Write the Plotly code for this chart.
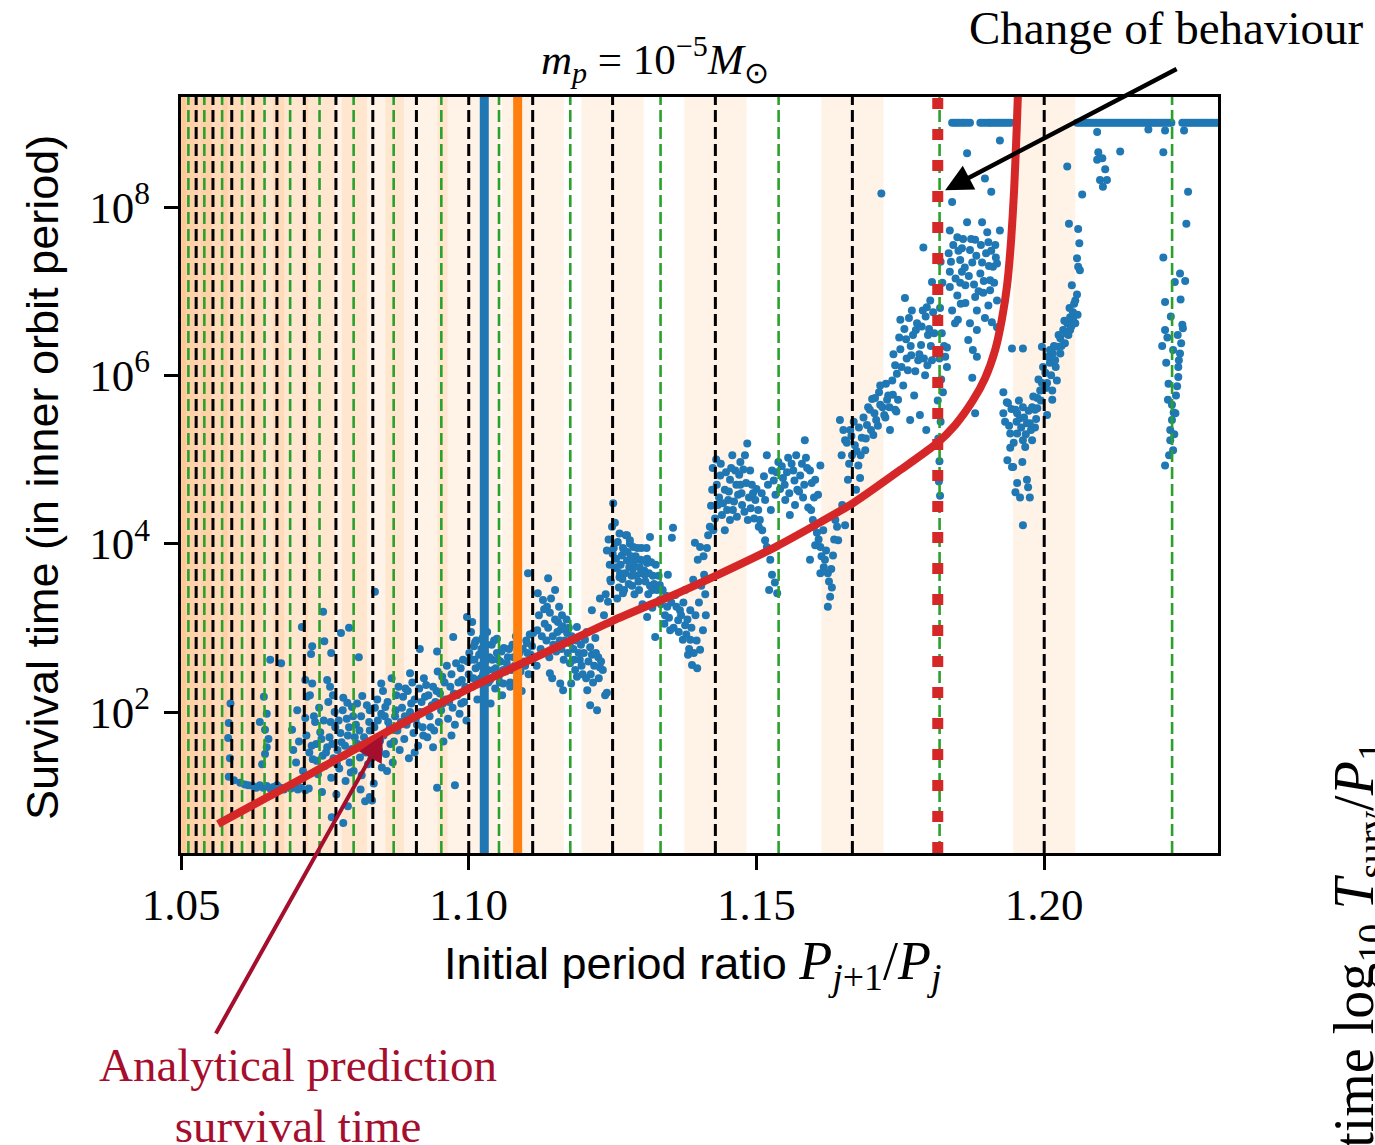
import plotly.graph_objects as go

# ---------------------------------------------------------------- styling
BLUE = "#1f77b4"
ORANGE = "#ff7f0e"
GREEN = "#2ca02c"
RED = "#d62728"
CRIMSON = "#a50e2d"
SERIF = "Liberation Serif"
SANS = "Liberation Sans"

# ---------------------------------------------------------------- axes
x_range = [1.05, 1.2302]
log_t_range = [0.325, 9.307]          # log10 of survival time
x_tick_vals = [1.05, 1.10, 1.15, 1.20]
x_tick_text = ["1.05", "1.10", "1.15", "1.20"]
y_tick_vals = [1e2, 1e4, 1e6, 1e8]
y_tick_text = ["10<sup>2</sup>", "10<sup>4</sup>", "10<sup>6</sup>", "10<sup>8</sup>"]

# ---------------------------------------------------------------- resonances
first_order = [6/5, 7/6, 8/7, 9/8, 10/9, 11/10, 12/11, 13/12, 14/13,
               15/14, 16/15, 17/16, 18/17, 19/18, 20/19]
second_order = [11/9, 13/11, 15/13, 17/15, 19/17, 21/19, 23/21, 25/23,
                27/25, 29/27, 31/29, 33/31, 35/33, 37/35, 39/37, 41/39]
band_centres = first_order + [21/20, 22/21, 23/22]
band_half_width = 0.0054

blue_line_x = 1.1027
orange_line_x = 1.1085
critical_x = 1.1815

# ---------------------------------------------------------------- analytical prediction
curve_ratio = [1.05643, 1.07120, 1.08285, 1.09154, 1.10022, 1.11239, 1.12490,
               1.13672, 1.14281, 1.15358, 1.16679, 1.17496, 1.18139, 1.18452,
               1.18764, 1.18973, 1.19147, 1.19268, 1.19355, 1.19425, 1.19477,
               1.19521, 1.19546]
curve_log_t = [0.670, 1.216, 1.656, 1.976, 2.285, 2.677, 3.081,
               3.425, 3.615, 3.971, 4.482, 4.874, 5.195, 5.409,
               5.705, 5.967, 6.299, 6.679, 7.071, 7.606, 8.200,
               8.912, 9.387]

# ---------------------------------------------------------------- N-body runs (ratio, log10 T)
sims_tight = [
    (1.0586, 2.10), (1.0583, 1.87), (1.0582, 1.69), (1.0585, 1.45), (1.0583, 1.23),
    (1.0611, 1.14), (1.0592, 1.19), (1.0603, 1.16), (1.0617, 1.13),
    (1.0625, 1.12), (1.0631, 1.10), (1.0637, 1.13), (1.0643, 1.10), (1.0649, 1.12),
    (1.0655, 1.09), (1.0661, 1.11), (1.0667, 1.13), (1.0673, 1.10), (1.0679, 1.08),
    (1.0685, 1.11), (1.0691, 1.09), (1.0697, 1.12), (1.0703, 1.08), (1.0709, 1.10),
    (1.0716, 1.07), (1.0722, 1.09),
    (1.0644, 2.18), (1.0649, 1.98), (1.0637, 1.88), (1.0646, 1.79), (1.0649, 1.58),
    (1.0646, 1.50), (1.0655, 2.62), (1.0674, 2.58), (1.0652, 1.68), (1.0641, 1.38),
    (1.0837, 3.43), (1.0747, 3.19), (1.0710, 3.01), (1.0792, 3.00), (1.0778, 2.94),
    (1.0749, 2.84), (1.0728, 2.78), (1.0726, 2.69), (1.0761, 2.70), (1.0809, 2.65),
    (1.0716, 2.38), (1.0728, 2.34), (1.0724, 2.20), (1.0719, 2.18), (1.0702, 2.02),
    (1.0716, 1.93), (1.0693, 1.79), (1.0754, 2.38), (1.0759, 2.30), (1.0764, 2.20),
    (1.0782, 2.17), (1.0789, 2.11), (1.0797, 2.06), (1.0815, 2.19), (1.0828, 2.02),
    (1.0837, 2.05), (1.0733, 1.88),
    (1.0762, 0.75), (1.0782, 0.68), (1.0828, 0.99), (1.0820, 0.94), (1.0832, 0.95),
    (1.0745, 1.05), (1.0770, 1.02), (1.0790, 0.88), (1.0812, 1.08),
    (1.0695, 1.55), (1.0700, 1.40), (1.0705, 1.65), (1.0712, 1.30), (1.0718, 1.72),
    (1.0723, 1.52), (1.0729, 1.44), (1.0735, 1.62), (1.0738, 1.26), (1.0742, 1.76),
    (1.0746, 1.48), (1.0750, 1.36), (1.0754, 1.58), (1.0758, 1.70), (1.0761, 1.22),
    (1.0765, 1.45), (1.0768, 1.82), (1.0772, 1.55), (1.0775, 1.33), (1.0779, 1.64),
    (1.0783, 1.48), (1.0786, 1.18), (1.0790, 1.72), (1.0793, 1.40), (1.0797, 1.56),
    (1.0800, 1.30), (1.0804, 1.85), (1.0807, 1.62), (1.0811, 1.46), (1.0814, 1.25),
    (1.0818, 1.70), (1.0821, 1.52), (1.0825, 1.38), (1.0828, 1.78), (1.0832, 1.60),
    (1.0835, 1.15), (1.0839, 1.48), (1.0842, 1.90), (1.0846, 1.66), (1.0849, 1.34),
    (1.0727, 1.60), (1.0731, 1.95), (1.0736, 1.42), (1.0740, 2.05), (1.0744, 1.68),
    (1.0748, 1.90), (1.0752, 1.52), (1.0756, 2.12), (1.0760, 1.88), (1.0763, 1.62),
    (1.0767, 2.00), (1.0771, 1.38), (1.0774, 1.90), (1.0777, 1.75), (1.0781, 2.02),
    (1.0785, 1.60), (1.0788, 1.92), (1.0792, 1.82), (1.0795, 1.28), (1.0799, 1.95),
    (1.0802, 1.70), (1.0806, 2.10), (1.0810, 1.78), (1.0813, 1.95), (1.0817, 1.58),
    (1.0823, 2.08), (1.0827, 1.88), (1.0831, 1.45), (1.0836, 1.82), (1.0841, 2.15),
    (1.0844, 1.55), (1.0848, 1.98),
]

sims_inner = [
    (1.0915, 2.75), (1.0945, 2.72), (1.0898, 2.46), (1.0848, 2.34), (1.0973, 2.89),
    (1.0997, 3.13), (1.1006, 3.07), (1.1011, 2.83), (1.1049, 2.87), (1.0976, 1.13),
    (1.0945, 1.10), (1.0855, 2.06),
    (1.0852, 1.72), (1.0856, 1.50), (1.0860, 1.88), (1.0864, 1.62), (1.0868, 1.40),
    (1.0872, 1.95), (1.0876, 1.78), (1.0880, 1.55), (1.0884, 2.05), (1.0888, 1.68),
    (1.0892, 1.85), (1.0896, 1.45), (1.0900, 2.10), (1.0904, 1.75), (1.0908, 1.92),
    (1.0912, 1.60), (1.0916, 2.00), (1.0920, 1.82), (1.0924, 2.18), (1.0928, 1.70),
    (1.0932, 1.95), (1.0936, 2.08), (1.0940, 1.78), (1.0944, 2.25), (1.0948, 1.88),
    (1.0952, 2.02), (1.0956, 1.65), (1.0960, 2.15), (1.0964, 1.92), (1.0968, 2.30),
    (1.0972, 2.05), (1.0976, 1.85), (1.0980, 2.20), (1.0984, 1.98), (1.0988, 2.38),
    (1.0992, 2.12), (1.0996, 1.90),
    (1.0858, 1.30), (1.0874, 2.20), (1.0890, 2.28), (1.0906, 1.52), (1.0922, 2.40),
    (1.0938, 1.58), (1.0954, 2.42), (1.0970, 1.72), (1.0986, 2.52), (1.0998, 2.60),
    (1.0851, 2.25), (1.0854, 1.95), (1.0859, 2.12), (1.0863, 1.82), (1.0866, 2.40),
    (1.0870, 1.65), (1.0873, 2.02), (1.0878, 2.30), (1.0882, 1.88), (1.0886, 2.18),
    (1.0889, 1.95), (1.0894, 2.25), (1.0898, 2.00), (1.0902, 2.35), (1.0906, 2.15),
    (1.0910, 1.85), (1.0914, 2.28), (1.0918, 2.12), (1.0921, 1.72), (1.0926, 2.32),
    (1.0930, 2.20), (1.0934, 1.82), (1.0938, 2.30), (1.0942, 2.12), (1.0946, 2.48),
    (1.0950, 2.22), (1.0955, 2.10), (1.0958, 2.35), (1.0962, 2.55), (1.0966, 2.12),
    (1.0970, 2.45), (1.0974, 2.22), (1.0978, 2.58), (1.0982, 2.35), (1.0987, 2.10),
    (1.0990, 2.62), (1.0994, 2.30),
    (1.1000, 2.45), (1.1003, 2.62), (1.1006, 2.30), (1.1009, 2.78), (1.1012, 2.52),
    (1.1015, 2.15), (1.1018, 2.68), (1.1021, 2.40), (1.1024, 2.88), (1.1026, 2.58),
    (1.1027, 2.25), (1.1028, 2.72), (1.1030, 2.48), (1.1032, 2.95), (1.1034, 2.35),
    (1.1036, 2.65), (1.1038, 2.10), (1.1040, 2.80), (1.1043, 2.50), (1.1046, 2.28),
    (1.1049, 2.70), (1.1052, 2.42), (1.1055, 2.60), (1.1058, 2.20), (1.1061, 2.76),
    (1.1001, 2.70), (1.1004, 2.95), (1.1008, 2.40), (1.1010, 2.62), (1.1013, 2.85),
    (1.1016, 2.35), (1.1019, 2.55), (1.1022, 2.75), (1.1025, 2.45), (1.1029, 2.60),
    (1.1031, 2.80), (1.1033, 2.50), (1.1037, 2.38), (1.1041, 2.62), (1.1044, 2.85),
    (1.1047, 2.52), (1.1051, 2.62), (1.1054, 2.35), (1.1057, 2.72), (1.1060, 2.50),
    (1.1064, 2.48), (1.1068, 2.65), (1.1072, 2.35), (1.1076, 2.80), (1.1080, 2.55),
    (1.1084, 2.40), (1.1088, 2.70), (1.1092, 2.25), (1.1096, 2.60), (1.1100, 2.85),
    (1.1104, 2.45), (1.1108, 2.68),
    (1.1066, 2.58), (1.1070, 2.75), (1.1074, 2.50), (1.1078, 2.65), (1.1082, 2.90),
    (1.1086, 2.58), (1.1090, 2.48), (1.1094, 2.75), (1.1098, 2.55), (1.1102, 2.70),
    (1.1106, 2.92), (1.1110, 2.78),
]

sims_middle = [
    (1.1103, 3.65), (1.1120, 3.41), (1.1129, 3.33), (1.1136, 3.25), (1.1141, 3.18),
    (1.1138, 3.59), (1.1150, 3.45), (1.1162, 3.15), (1.1155, 3.07), (1.1171, 2.94),
    (1.1176, 2.82), (1.1176, 2.58), (1.1178, 2.34), (1.1188, 3.01), (1.1202, 2.86),
    (1.1214, 2.68), (1.1228, 2.53), (1.1206, 2.26), (1.1237, 2.20), (1.1228, 3.35),
    (1.1242, 3.31), (1.1214, 3.21), (1.1060, 2.34), (1.1072, 2.30), (1.1101, 2.82),
    (1.1112, 2.94), (1.1119, 2.97), (1.1141, 2.46), (1.1159, 2.34), (1.1164, 2.26),
    (1.1188, 2.42), (1.1193, 2.62), (1.1211, 2.77), (1.1225, 2.65), (1.1233, 2.50),
    (1.1240, 2.23), (1.1223, 2.02), (1.1211, 2.08),
    (1.1125, 2.75), (1.1132, 3.05), (1.1140, 2.65), (1.1146, 2.90), (1.1152, 2.72),
    (1.1158, 2.85), (1.1165, 2.62), (1.1170, 3.10), (1.1182, 2.75), (1.1185, 2.50),
    (1.1195, 2.80), (1.1198, 2.45), (1.1205, 2.95), (1.1218, 2.55), (1.1220, 2.88),
    (1.1145, 2.40), (1.1118, 2.55), (1.1110, 2.62), (1.1135, 2.85), (1.1160, 2.98),
    (1.1122, 3.15), (1.1127, 2.90), (1.1131, 3.22), (1.1134, 2.70), (1.1138, 3.00),
    (1.1143, 3.35), (1.1147, 2.80), (1.1150, 3.10), (1.1154, 2.95), (1.1157, 3.25),
    (1.1161, 2.75), (1.1163, 3.02), (1.1167, 2.85), (1.1172, 2.70), (1.1174, 3.00),
    (1.1179, 2.90), (1.1183, 2.62), (1.1187, 2.85), (1.1191, 2.70), (1.1196, 2.55),
    (1.1200, 2.70), (1.1204, 2.40), (1.1208, 2.60), (1.1212, 2.45), (1.1216, 2.35),
    (1.1221, 2.70), (1.1226, 2.40), (1.1230, 2.60), (1.1235, 3.15), (1.1238, 3.40),
    (1.1251, 4.48), (1.1254, 4.25), (1.1262, 4.12), (1.1268, 3.95), (1.1275, 3.80),
    (1.1257, 3.72), (1.1250, 3.88), (1.1262, 3.60), (1.1270, 3.45), (1.1280, 4.00),
    (1.1285, 3.70), (1.1290, 3.85), (1.1295, 3.55), (1.1300, 3.95), (1.1305, 3.68),
    (1.1310, 3.82), (1.1315, 3.50), (1.1320, 3.62), (1.1258, 3.35), (1.1247, 3.55),
    (1.1243, 4.05), (1.1273, 4.10), (1.1288, 3.40), (1.1302, 3.28), (1.1312, 3.40),
    (1.1325, 3.75), (1.1283, 3.62), (1.1266, 3.86), (1.1297, 3.72), (1.1278, 3.52),
    (1.1275, 4.10), (1.1280, 4.04), (1.1240, 3.92), (1.1246, 3.57), (1.1254, 3.71),
    (1.1286, 3.96), (1.1298, 3.81), (1.1310, 3.77), (1.1263, 3.65), (1.1268, 3.41),
    (1.1315, 4.08),
    (1.1245, 3.75), (1.1249, 4.20), (1.1252, 3.95), (1.1256, 3.82), (1.1259, 4.02),
    (1.1261, 3.48), (1.1264, 3.75), (1.1267, 3.58), (1.1270, 3.92), (1.1272, 3.65),
    (1.1276, 3.90), (1.1279, 3.72), (1.1282, 3.85), (1.1284, 3.50), (1.1287, 3.78),
    (1.1291, 3.62), (1.1293, 3.95), (1.1296, 3.45), (1.1299, 3.65), (1.1303, 3.80),
    (1.1307, 3.55), (1.1309, 3.95), (1.1313, 3.65), (1.1317, 3.78), (1.1322, 3.52),
    (1.1355, 4.19), (1.1353, 4.07), (1.1393, 4.01), (1.1402, 3.96), (1.1419, 4.20),
    (1.1416, 4.10), (1.1306, 3.63), (1.1319, 3.45), (1.1332, 3.33), (1.1345, 3.25),
    (1.1324, 2.89), (1.1310, 3.13), (1.1319, 3.24), (1.1359, 3.39), (1.1367, 3.21),
    (1.1376, 3.03), (1.1385, 2.86), (1.1388, 2.56), (1.1397, 2.52), (1.1402, 2.74),
    (1.1407, 2.97), (1.1412, 3.15), (1.1364, 3.09), (1.1372, 2.86), (1.1381, 2.68),
    (1.1350, 2.97), (1.1341, 3.15), (1.1332, 3.51), (1.1346, 3.63), (1.1376, 3.45),
    (1.1390, 3.57), (1.1398, 3.81), (1.1409, 3.63), (1.1385, 3.21),
    (1.1327, 3.45), (1.1330, 3.62), (1.1334, 3.28), (1.1337, 3.45), (1.1340, 3.05),
    (1.1343, 3.38), (1.1348, 3.12), (1.1352, 3.30), (1.1356, 3.00), (1.1361, 3.25),
    (1.1365, 2.95), (1.1369, 3.15), (1.1373, 3.30), (1.1378, 2.92), (1.1380, 3.10),
    (1.1383, 2.75), (1.1387, 3.00), (1.1391, 2.70), (1.1394, 3.15), (1.1396, 2.85),
    (1.1400, 3.30), (1.1404, 3.50), (1.1408, 3.85), (1.1411, 3.40), (1.1414, 3.95),
]

sims_outer = [
    (1.1430, 5.00), (1.1437, 4.81), (1.1445, 4.64), (1.1454, 4.76), (1.1463, 4.87),
    (1.1472, 4.97), (1.1480, 5.05), (1.1484, 5.19), (1.1489, 4.87), (1.1492, 4.70),
    (1.1498, 4.52), (1.1503, 4.40), (1.1433, 4.46), (1.1440, 4.34), (1.1451, 4.52),
    (1.1459, 4.40), (1.1468, 4.58), (1.1475, 4.46), (1.1485, 4.28), (1.1425, 4.16),
    (1.1445, 4.16), (1.1454, 4.28), (1.1472, 4.70), (1.1423, 4.64), (1.1458, 5.05),
    (1.1421, 4.45), (1.1424, 4.90), (1.1428, 4.30), (1.1431, 4.70), (1.1435, 4.55),
    (1.1438, 4.95), (1.1442, 4.48), (1.1447, 4.85), (1.1449, 4.40), (1.1452, 4.62),
    (1.1456, 4.90), (1.1461, 4.50), (1.1465, 4.70), (1.1466, 4.32), (1.1470, 4.82),
    (1.1474, 4.60), (1.1477, 4.88), (1.1479, 4.38), (1.1482, 4.72), (1.1487, 4.55),
    (1.1490, 4.42), (1.1494, 4.60), (1.1496, 4.30), (1.1500, 4.65), (1.1504, 4.20),
    (1.1518, 5.05), (1.1527, 4.87), (1.1538, 4.97), (1.1546, 4.78), (1.1555, 5.02),
    (1.1564, 4.87), (1.1571, 4.64), (1.1576, 4.81), (1.1584, 5.23), (1.1586, 5.02),
    (1.1593, 4.87), (1.1567, 4.46), (1.1550, 4.52), (1.1533, 4.58), (1.1515, 4.52),
    (1.1506, 4.28), (1.1558, 4.34), (1.1602, 4.76), (1.1607, 4.58), (1.1611, 4.93),
    (1.1509, 4.60), (1.1513, 4.80), (1.1520, 4.70), (1.1525, 4.40), (1.1530, 4.75),
    (1.1535, 4.85), (1.1541, 4.65), (1.1544, 4.92), (1.1549, 4.70), (1.1553, 4.85),
    (1.1557, 4.60), (1.1561, 4.95), (1.1566, 4.75), (1.1569, 5.05), (1.1574, 4.62),
    (1.1579, 4.95), (1.1583, 4.70), (1.1588, 4.90), (1.1596, 4.72), (1.1600, 4.55),
    (1.1518, 3.96), (1.1524, 3.81), (1.1527, 3.63), (1.1532, 3.54), (1.1522, 3.45),
    (1.1536, 3.41), (1.1515, 4.04), (1.1510, 4.16),
    (1.1581, 4.55), (1.1590, 4.43), (1.1598, 4.28), (1.1605, 4.13), (1.1611, 3.96),
    (1.1619, 3.81), (1.1624, 3.65), (1.1631, 3.48), (1.1628, 3.37), (1.1624, 3.25),
    (1.1593, 3.81), (1.1611, 3.65), (1.1616, 4.16), (1.1637, 4.28), (1.1642, 4.04),
    (1.1649, 4.46), (1.1654, 4.22), (1.1633, 3.86), (1.1602, 3.98),
    (1.1595, 4.40), (1.1600, 4.20), (1.1608, 4.05), (1.1613, 3.85), (1.1617, 3.72),
    (1.1621, 3.92), (1.1626, 3.55), (1.1630, 3.70), (1.1635, 4.05), (1.1640, 4.20),
    (1.1645, 5.47), (1.1654, 5.23), (1.1663, 5.35), (1.1666, 5.05), (1.1671, 5.17),
    (1.1677, 4.93), (1.1683, 5.26), (1.1689, 5.11), (1.1692, 5.41), (1.1697, 5.59),
    (1.1703, 5.29), (1.1708, 5.47), (1.1715, 5.65), (1.1722, 5.53), (1.1727, 5.71),
    (1.1732, 5.35), (1.1737, 5.77), (1.1743, 5.57), (1.1659, 4.76), (1.1673, 4.64),
    (1.1680, 4.78),
    (1.1648, 5.05), (1.1651, 5.35), (1.1657, 5.20), (1.1661, 4.95), (1.1665, 5.28),
    (1.1669, 5.45), (1.1674, 5.10), (1.1678, 5.38), (1.1681, 5.05), (1.1686, 5.50),
    (1.1690, 5.25), (1.1694, 5.62), (1.1699, 5.35), (1.1701, 5.72), (1.1705, 5.55),
    (1.1711, 5.40), (1.1713, 5.80), (1.1719, 5.62), (1.1725, 5.90), (1.1731, 5.62),
]

sims_edge = [
    (1.1724, 5.50), (1.1729, 5.76), (1.1736, 5.94), (1.1741, 6.12), (1.1746, 5.71),
    (1.1750, 6.31), (1.1755, 5.88), (1.1760, 6.43), (1.1763, 6.06), (1.1769, 6.24),
    (1.1774, 5.76), (1.1777, 6.54), (1.1781, 6.18), (1.1786, 6.36), (1.1789, 6.77),
    (1.1793, 6.00), (1.1798, 6.48), (1.1802, 6.89), (1.1805, 6.18), (1.1750, 6.66),
    (1.1758, 6.92), (1.1770, 6.77), (1.1741, 5.59), (1.1715, 5.88), (1.1706, 5.73),
    (1.1767, 5.47), (1.1784, 5.53), (1.1795, 5.35),
    (1.1738, 6.25), (1.1744, 6.02), (1.1748, 6.45), (1.1752, 6.10), (1.1757, 6.55),
    (1.1761, 6.20), (1.1765, 6.68), (1.1768, 6.35), (1.1772, 6.48), (1.1776, 6.05),
    (1.1779, 6.62), (1.1783, 6.25), (1.1787, 6.58), (1.1791, 6.20), (1.1794, 6.70),
    (1.1797, 6.12), (1.1800, 6.55), (1.1803, 6.35), (1.1807, 6.75), (1.1809, 6.50),
    (1.1717, 8.16), (1.1790, 7.52), (1.1796, 6.81), (1.1805, 7.11),
    (1.1818, 4.98), (1.1817, 4.74), (1.1819, 4.57), (1.1816, 5.25), (1.1820, 5.45),
    (1.1815, 5.70), (1.1821, 5.95), (1.1818, 6.20), (1.1822, 6.50), (1.1819, 6.80),
    (1.1823, 7.10), (1.1820, 7.35), (1.1824, 5.80), (1.1826, 6.35),
    (1.1831, 6.33), (1.1828, 6.22), (1.1831, 6.10),
    (1.1836, 7.72), (1.1849, 7.64), (1.1866, 7.82), (1.1892, 7.82), (1.1901, 7.70),
    (1.1915, 7.55), (1.1903, 7.58), (1.1871, 7.49), (1.1854, 7.37), (1.1836, 7.23),
    (1.1857, 7.23), (1.1836, 7.05), (1.1854, 7.10), (1.1889, 7.21), (1.1906, 7.13),
    (1.1918, 7.33), (1.1911, 7.29), (1.1892, 7.34), (1.1875, 7.34), (1.1863, 6.86),
    (1.1883, 6.77), (1.1871, 6.62), (1.1883, 6.54), (1.1850, 6.66), (1.1845, 6.62),
    (1.1894, 6.98), (1.1906, 7.01), (1.1918, 6.89), (1.1880, 6.93), (1.1876, 6.30),
    (1.1883, 6.22), (1.1897, 6.68), (1.1863, 7.07), (1.1849, 6.95), (1.1840, 6.77),
    (1.1868, 6.42), (1.1903, 6.83), (1.1909, 6.63), (1.1923, 7.72), (1.1857, 7.51),
    (1.1880, 7.61),
    (1.1834, 7.45), (1.1838, 7.35), (1.1842, 7.55), (1.1846, 7.15), (1.1851, 7.48),
    (1.1855, 6.85), (1.1859, 7.62), (1.1862, 7.28), (1.1869, 7.18), (1.1873, 7.62),
    (1.1878, 7.08), (1.1882, 7.42), (1.1886, 7.00), (1.1890, 7.55), (1.1895, 7.12),
    (1.1899, 7.45), (1.1904, 7.30), (1.1908, 7.48), (1.1913, 7.10), (1.1916, 7.40),
    (1.1840, 8.06), (1.1897, 8.34), (1.1908, 8.18), (1.1866, 8.64), (1.1923, 8.79),
    (1.1880, 5.55), (1.1875, 5.97), (1.1918, 6.57),
]

sims_wide = [
    (1.1963, 4.22), (1.1936, 4.99), (1.1946, 4.91), (1.1962, 4.97), (1.1953, 4.72),
    (1.1950, 4.61), (1.1958, 4.55), (1.1970, 4.76), (1.1972, 4.67), (1.1975, 4.55),
    (1.1967, 5.15), (1.1979, 5.23), (1.1984, 5.38), (1.1941, 5.31), (1.1929, 5.55),
    (1.1953, 5.55), (1.1988, 5.61), (1.2005, 5.53), (1.2014, 5.71), (1.1963, 5.62),
    (1.1929, 5.80), (1.1937, 5.67), (1.1950, 5.59), (1.1958, 5.49), (1.1970, 5.43),
    (1.1979, 5.62), (1.1988, 5.73), (1.1996, 5.91), (1.2002, 6.03), (1.2010, 6.15),
    (1.2015, 6.26), (1.2022, 6.34), (1.2028, 6.44), (1.2033, 6.54), (1.2040, 6.62),
    (1.2045, 6.69), (1.2050, 6.75), (1.2010, 6.30), (1.2019, 6.18), (1.2028, 6.26),
    (1.2036, 6.38), (1.2042, 6.48), (1.2005, 5.91), (1.2014, 5.82), (1.2022, 5.94),
    (1.1993, 5.82), (1.1984, 5.59), (1.1975, 5.43), (1.1963, 5.23), (1.1953, 5.31),
    (1.1941, 5.14), (1.1944, 4.91), (1.1996, 6.34), (1.2045, 6.54), (1.2050, 6.66),
    (1.2054, 6.62),
    (1.1932, 5.45), (1.1935, 5.68), (1.1939, 5.40), (1.1943, 5.60), (1.1947, 5.20),
    (1.1952, 5.45), (1.1956, 5.70), (1.1960, 5.38), (1.1965, 5.50), (1.1968, 5.30),
    (1.1973, 5.58), (1.1977, 5.35), (1.1981, 5.75), (1.1986, 5.48), (1.1990, 5.95),
    (1.1994, 5.70), (1.1998, 6.10), (1.2003, 5.85), (1.2007, 6.22), (1.2012, 6.00),
    (1.2017, 6.35), (1.2020, 6.10), (1.2025, 6.48), (1.2030, 6.35), (1.2035, 6.65),
    (1.2038, 6.50), (1.2044, 6.80), (1.2047, 6.58), (1.2052, 6.85), (1.2058, 6.72),
    (1.2057, 7.39), (1.2059, 7.74), (1.2043, 7.80), (1.2061, 7.57), (1.2059, 7.29),
    (1.2062, 7.25), (1.2057, 6.96), (1.2040, 8.48), (1.2066, 8.15), (1.2048, 7.07),
    (1.2054, 6.89), (1.1944, 6.32), (1.1963, 6.32),
    (1.2092, 8.89), (1.2094, 8.65), (1.2092, 8.56), (1.2101, 8.58), (1.2106, 8.45),
    (1.2097, 8.32), (1.2109, 8.32), (1.2102, 8.24), (1.2132, 8.66), (1.2181, 8.92),
    (1.2210, 8.91), (1.2243, 8.91), (1.2207, 8.65), (1.2250, 8.18),
    (1.2247, 7.80), (1.2207, 7.40), (1.2236, 7.21), (1.2227, 7.11), (1.2245, 7.12),
    (1.2210, 6.87), (1.2240, 6.60), (1.2241, 6.56), (1.2210, 6.54), (1.2214, 6.45),
    (1.2238, 6.38), (1.2205, 6.35), (1.2236, 6.26), (1.2234, 6.18), (1.2233, 6.10),
    (1.2233, 5.98), (1.2231, 5.87), (1.2215, 5.71), (1.2222, 5.65), (1.2222, 5.47),
    (1.2219, 5.35), (1.2219, 5.23), (1.2224, 5.11), (1.2210, 4.93), (1.2225, 5.56),
    (1.2229, 5.76), (1.2217, 5.05),
    (1.2212, 6.15), (1.2216, 5.90), (1.2224, 6.30), (1.2228, 5.55), (1.2232, 6.48),
    (1.2226, 5.30), (1.2220, 6.70), (1.2237, 6.90),
]

# runs that reached the maximum integration time (10^9 inner orbits)
capped_log_t = 9.0
capped_ratio = [
    1.1840, 1.1844, 1.1848, 1.1852, 1.1857, 1.1861, 1.1866, 1.1871,
    1.1889, 1.1893, 1.1898, 1.1903, 1.1906,
    1.1910, 1.1914, 1.1918, 1.1922, 1.1926, 1.1930, 1.1934, 1.1938, 1.1942,
    1.2057, 1.2061, 1.2065, 1.2069, 1.2073, 1.2077, 1.2081, 1.2085, 1.2089,
    1.2093, 1.2097, 1.2101, 1.2105, 1.2109, 1.2113, 1.2117, 1.2121, 1.2125,
    1.2129, 1.2133, 1.2137, 1.2141, 1.2145, 1.2149, 1.2153, 1.2157, 1.2161,
    1.2165, 1.2169, 1.2173, 1.2177, 1.2181, 1.2185, 1.2189, 1.2193, 1.2197,
    1.2201, 1.2205, 1.2209, 1.2213, 1.2217, 1.2221,
    1.2240, 1.2244, 1.2248, 1.2252, 1.2256, 1.2260, 1.2264, 1.2268, 1.2272,
    1.2276, 1.2280, 1.2284, 1.2288, 1.2292, 1.2296, 1.2300,
]

# ---------------------------------------------------------------- figure
fig = go.Figure()

all_runs = sims_tight + sims_inner + sims_middle + sims_outer + sims_edge + sims_wide
run_x = [p[0] for p in all_runs] + capped_ratio
run_y = [10 ** p[1] for p in all_runs] + [10 ** capped_log_t] * len(capped_ratio)
fig.add_trace(go.Scatter(
    x=run_x, y=run_y, mode="markers",
    marker=dict(color=BLUE, size=8, line=dict(width=0)),
    hoverinfo="skip", showlegend=False,
))

y_lo, y_hi = 10 ** log_t_range[0], 10 ** log_t_range[1]


def vline(xv, color, width, dash):
    fig.add_trace(go.Scatter(
        x=[xv, xv], y=[y_lo, y_hi], mode="lines",
        line=dict(color=color, width=width, dash=dash),
        hoverinfo="skip", showlegend=False,
    ))


for r in first_order:
    vline(r, "black", 3, "12px,5px")
for r in second_order:
    vline(r, GREEN, 2.6, "12px,5px")
vline(blue_line_x, BLUE, 9, "solid")
vline(orange_line_x, ORANGE, 9, "solid")

fig.add_trace(go.Scatter(
    x=curve_ratio, y=[10 ** v for v in curve_log_t], mode="lines",
    line=dict(color=RED, width=8, shape="spline", smoothing=0.6),
    hoverinfo="skip", showlegend=False,
))
vline(critical_x, RED, 11, "11px,20px")

# shaded resonance widths
for c in band_centres:
    x0 = max(c - band_half_width, x_range[0])
    x1 = min(c + band_half_width, x_range[1])
    if x1 <= x0:
        continue
    fig.add_shape(type="rect", xref="x", yref="paper", x0=x0, x1=x1, y0=0, y1=1,
                  fillcolor="rgba(255,127,14,0.1)", line=dict(width=0), layer="below")

axis_common = dict(
    showline=True, linewidth=3, linecolor="black", mirror=True,
    ticks="outside", ticklen=14, tickwidth=3, tickcolor="black",
    showgrid=False, zeroline=False,
    tickfont=dict(family=SERIF, size=45, color="black"),
)
fig.update_xaxes(range=x_range, tickvals=x_tick_vals, ticktext=x_tick_text,
                 ticklabelstandoff=-4, **axis_common)
fig.update_yaxes(type="log", range=log_t_range, tickvals=y_tick_vals,
                 ticktext=y_tick_text, ticklabelstandoff=5, **axis_common)

annotations = [
    # panel title
    dict(xref="paper", yref="paper", x=0.457, y=1.049, xanchor="center", yanchor="middle",
         text="<i>m</i><sub><i>p</i></sub> = 10<sup>−5</sup><i>M</i><sub>⊙</sub>",
         showarrow=False, font=dict(family=SERIF, size=43, color="black")),
    # axis titles
    dict(xref="paper", yref="paper", x=0.493, y=-0.148, xanchor="center", yanchor="middle",
         text=("Initial period ratio <span style=\"font-family:Liberation Serif;font-size:54px\">"
               "<i>P</i><sub><i>j</i>+1</sub>/<i>P</i><sub><i>j</i></sub></span>"),
         showarrow=False, font=dict(family=SANS, size=45, color="black")),
    dict(xref="paper", yref="paper", x=-0.134, y=0.496, xanchor="center", yanchor="middle",
         text="Survival time (in inner orbit period)", textangle=-90,
         showarrow=False, font=dict(family=SANS, size=45, color="black")),
    # call-outs
    dict(xref="paper", yref="paper", x=0.950, y=1.091, xanchor="center", yanchor="middle",
         text="Change of behaviour", showarrow=False,
         font=dict(family=SERIF, size=47, color="black")),
    dict(xref="x", yref="y", x=1.18278, y=8.2, ax=233, ay=-122, text="",
         showarrow=True, arrowhead=2, arrowsize=1.2, arrowwidth=4.5, arrowcolor="black"),
    dict(xref="paper", yref="paper", x=0.113, y=-0.321, xanchor="center", yanchor="middle",
         text="Analytical prediction<br>survival time", showarrow=False,
         font=dict(family=SERIF, size=47, color=CRIMSON)),
    dict(xref="x", yref="y", x=1.08511, y=1.727, ax=-168, ay=300, text="",
         showarrow=True, arrowhead=2, arrowsize=1.3, arrowwidth=4, arrowcolor=CRIMSON),
    # neighbouring panel's axis title
    dict(xref="paper", yref="paper", x=1.135, y=0.150, xanchor="center", yanchor="top",
         text=("Survival time log<sub>10</sub> <i>T</i><sub>surv</sub>/<i>P</i><sub>1</sub>"),
         textangle=-90, showarrow=False, font=dict(family=SERIF, size=56, color="black")),
]

fig.update_layout(
    width=1375, height=1145,
    margin=dict(l=181, r=157, t=97, b=292),
    plot_bgcolor="white", paper_bgcolor="white",
    showlegend=False,
    annotations=annotations,
)

fig.write_html("out.html")
